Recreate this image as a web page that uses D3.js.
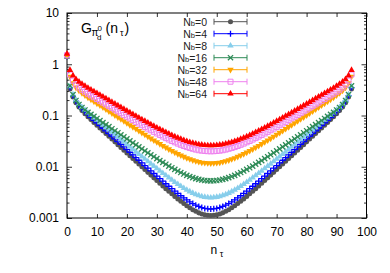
<!DOCTYPE html>
<html><head><meta charset="utf-8">
<script src="https://cdn.jsdelivr.net/npm/d3@7"></script>
<style>body{margin:0;background:#fff}svg{display:block;font-family:"Liberation Sans",Arial,Helvetica,sans-serif}</style>
</head><body><svg id="c" width="390" height="273"></svg>
<script>
// ---- data ----
const nTau = d3.range(0, 96);
const nbLabels = ["0", "4", "8", "16", "32", "48", "64"];
const xTickValues = [0, 10, 20, 30, 40, 50, 60, 70, 80, 90, 100];
const yTickValues = [0.001, 0.01, 0.1, 1, 10];
const yTickLabels = ["0.001", "0.01", "0.1", "1", "10"];

const gNb0 = [1.40, 0.329,0.229,0.177,0.146,0.1245,0.1082,0.0942,0.0831,0.0734,0.0647,
0.0571,0.0504,0.0445,0.0393,0.0347,0.0306,0.0270,0.0238,0.0210,0.0186,
0.0164,0.0145,0.0128,0.0113,0.00996,0.0088,0.00777,0.00687,0.00607,0.00537,
0.00476,0.00421,0.00374,0.00332,0.00296,0.00264,0.00236,0.00212,0.00191,0.00173,
0.00158,0.00145,0.00135,0.00126,0.0012,0.00116,0.00113,0.00112,
0.00113,0.00116,0.0012,0.00126,0.00135,0.00145,0.00158,
0.00173,0.00191,0.00212,0.00236,0.00264,0.00296,0.00332,0.00374,0.00421,0.00476,
0.00537,0.00607,0.00687,0.00777,0.0088,0.00996,0.0113,0.0128,0.0145,0.0164,
0.0186,0.0210,0.0238,0.0270,0.0306,0.0347,0.0393,0.0445,0.0504,0.0571,
0.0647,0.0734,0.0831,0.0942,0.1082,0.1245,0.146,0.177,0.229,0.329];

const gNb4 = [1.42, 0.351,0.244,0.190,0.157,0.1345,0.1174,0.1028,0.0911,0.0808,0.0717,
0.0636,0.0564,0.0500,0.0444,0.0394,0.0349,0.0310,0.0275,0.0244,0.0216,
0.0192,0.0170,0.0151,0.0134,0.0119,0.01056,0.00938,0.00834,0.00739,0.00658,
0.00586,0.00523,0.00466,0.00416,0.00373,0.00334,0.00301,0.00272,0.00246,0.00225,
0.00206,0.00191,0.00178,0.00168,0.0016,0.00154,0.00151,0.0015,
0.00151,0.00154,0.0016,0.00168,0.00178,0.00191,0.00206,
0.00225,0.00246,0.00272,0.00301,0.00334,0.00373,0.00416,0.00466,0.00523,0.00586,
0.00658,0.00739,0.00834,0.00938,0.01056,0.0119,0.0134,0.0151,0.0170,0.0192,
0.0216,0.0244,0.0275,0.0310,0.0349,0.0394,0.0444,0.0500,0.0564,0.0636,
0.0717,0.0808,0.0911,0.1028,0.1174,0.1345,0.157,0.190,0.244,0.351];

const gNb8 = [1.43, 0.370,0.2585,0.2015,0.1685,0.1458,0.1286,0.1137,0.1018,0.0912,0.0817,
0.0732,0.0656,0.0588,0.0527,0.0472,0.0423,0.0379,0.0339,0.0304,0.0273,
0.0244,0.0219,0.0196,0.0176,0.0158,0.0142,0.0127,0.0114,0.0103,0.00924,
0.00831,0.00749,0.00675,0.0061,0.00552,0.00501,0.00457,0.00417,0.00383,0.00353,
0.00328,0.00307,0.00289,0.00275,0.00264,0.00256,0.00252,0.0025,
0.00252,0.00256,0.00264,0.00275,0.00289,0.00307,0.00328,
0.00353,0.00383,0.00417,0.00457,0.00501,0.00552,0.0061,0.00675,0.00749,0.00831,
0.00924,0.0103,0.0114,0.0127,0.0142,0.0158,0.0176,0.0196,0.0219,0.0244,
0.0273,0.0304,0.0339,0.0379,0.0423,0.0472,0.0527,0.0588,0.0656,0.0732,
0.0817,0.0912,0.1018,0.1137,0.1286,0.1458,0.1685,0.2015,0.2585,0.370];

const gNb16 = [1.45, 0.380,0.2565,0.1965,0.1642,0.1435,0.1284,0.1152,0.1051,0.0959,0.0875,
0.0798,0.0728,0.0664,0.0606,0.0553,0.0505,0.0461,0.0420,0.0384,0.0350,
0.0320,0.0292,0.0267,0.0244,0.0223,0.0204,0.0187,0.0171,0.0157,0.0144,
0.0132,0.0122,0.0112,0.0103,0.00956,0.00887,0.00825,0.00771,0.00722,0.0068,
0.00644,0.00613,0.00587,0.00566,0.0055,0.00539,0.00532,0.0053,
0.00532,0.00539,0.0055,0.00566,0.00587,0.00613,0.00644,
0.0068,0.00722,0.00771,0.00825,0.00887,0.00956,0.0103,0.0112,0.0122,0.0132,
0.0144,0.0157,0.0171,0.0187,0.0204,0.0223,0.0244,0.0267,0.0292,0.0320,
0.0350,0.0384,0.0420,0.0461,0.0505,0.0553,0.0606,0.0664,0.0728,0.0798,
0.0875,0.0959,0.1051,0.1152,0.1284,0.1435,0.1642,0.1965,0.2565,0.380];

const gNb32 = [1.47, 0.574,0.429,0.353,0.307,0.274,0.248,0.225,0.206,0.188,0.172,
0.158,0.144,0.132,0.121,0.111,0.101,0.0927,0.0849,0.0777,0.0712,
0.0652,0.0598,0.0548,0.0502,0.0461,0.0423,0.0388,0.0357,0.0328,0.0302,
0.0279,0.0257,0.0238,0.022,0.0204,0.019,0.0178,0.0167,0.0157,0.0148,
0.0141,0.0134,0.0129,0.0125,0.0121,0.0119,0.0118,0.0117,
0.0118,0.0119,0.0121,0.0125,0.0129,0.0134,0.0141,
0.0148,0.0157,0.0167,0.0178,0.019,0.0204,0.022,0.0238,0.0257,0.0279,
0.0302,0.0328,0.0357,0.0388,0.0423,0.0461,0.0502,0.0548,0.0598,0.0652,
0.0712,0.0777,0.0849,0.0927,0.101,0.111,0.121,0.132,0.144,0.158,
0.172,0.188,0.206,0.225,0.248,0.274,0.307,0.353,0.429,0.574];

const gNb48 = [1.50, 0.630,0.479,0.400,0.352,0.318,0.2905,0.266,0.246,0.227,0.2095,
0.1935,0.179,0.165,0.1525,0.141,0.130,0.120,0.111,0.1027,0.095,
0.0879,0.0813,0.0752,0.0697,0.0646,0.0598,0.0555,0.0516,0.0479,0.0446,
0.0415,0.0388,0.0362,0.0339,0.0318,0.03,0.0283,0.0268,0.0254,0.0242,
0.0232,0.0224,0.0216,0.021,0.0206,0.0203,0.0201,0.02,
0.0201,0.0203,0.0206,0.021,0.0216,0.0224,0.0232,
0.0242,0.0254,0.0268,0.0283,0.03,0.0318,0.0339,0.0362,0.0388,0.0415,
0.0446,0.0479,0.0516,0.0555,0.0598,0.0646,0.0697,0.0752,0.0813,0.0879,
0.095,0.1027,0.111,0.120,0.130,0.141,0.1525,0.165,0.179,0.1935,
0.2095,0.227,0.246,0.266,0.2905,0.318,0.352,0.400,0.479,0.630];

const gNb64 = [1.60, 0.769,0.602,0.511,0.454,0.412,0.377,0.346,0.3195,0.295,0.2724,
0.2516,0.2323,0.2146,0.1982,0.1831,0.1692,0.1563,0.1445,0.1336,0.1235,
0.1142,0.1057,0.0978,0.0906,0.0839,0.0778,0.0722,0.067,0.0623,0.058,
0.054,0.0504,0.0471,0.0441,0.0414,0.0389,0.0367,0.0348,0.033,0.0315,
0.0302,0.0291,0.0281,0.0273,0.0268,0.0263,0.0261,0.026,
0.0261,0.0263,0.0268,0.0273,0.0281,0.0291,0.0302,
0.0315,0.033,0.0348,0.0367,0.0389,0.0414,0.0441,0.0471,0.0504,0.054,
0.058,0.0623,0.067,0.0722,0.0778,0.0839,0.0906,0.0978,0.1057,0.1142,
0.1235,0.1336,0.1445,0.1563,0.1692,0.1831,0.1982,0.2146,0.2323,0.2516,
0.2724,0.295,0.3195,0.346,0.377,0.412,0.454,0.511,0.602,0.769];

// ---- styling / layout ----
const seriesValues = [gNb0, gNb4, gNb8, gNb16, gNb32, gNb48, gNb64];
const colors = ["#555555", "#0000ff", "#87ceeb", "#2e8b57", "#ffa500", "#ee82ee", "#ff0000"];
const shapes = ["circle", "plus", "tri", "cross", "triDown", "square", "tri"];

const svg = d3.select("#c");
const L = 67, R = 366.5, T = 13, B = 218;
const x = d3.scaleLinear().domain([0, 100]).range([L, R]);
const y = d3.scaleLog().domain([0.001, 10]).range([B, T]);

function shapePath(type) {
  switch (type) {
    case "circle": return d3.symbol(d3.symbolCircle, 20)();
    case "plus": return "M-3,0H3M0,-3V3";
    case "cross": return "M-2.6,-2.6L2.6,2.6M-2.6,2.6L2.6,-2.6";
    case "tri": return d3.symbol(d3.symbolTriangle, 18)();
    case "triDown": return d3.symbol(d3.symbolTriangle, 18)();
    case "square": return "M-2.5,-2.5H2.5V2.5H-2.5Z";
  }
}
function styleMarker(sel, type, color) {
  const stroked = (type === "plus" || type === "cross" || type === "square");
  sel.attr("d", shapePath(type))
    .attr("fill", stroked ? "none" : color)
    .attr("stroke", stroked ? color : "none")
    .attr("stroke-width", type === "square" ? 1 : 1.3);
}

// axes
const fs = 12;
const xAxis = d3.axisBottom(x).tickValues(xTickValues).tickSize(-4).tickPadding(9).tickFormat(d3.format("d"));
svg.append("g").attr("transform", `translate(0,${B})`).call(xAxis);
const xTop = d3.axisTop(x).tickValues(xTickValues).tickSize(-4).tickFormat("");
svg.append("g").attr("transform", `translate(0,${T})`).call(xTop);
const yAxis = d3.axisLeft(y).tickValues(yTickValues).tickSize(-5).tickPadding(8)
  .tickFormat((d, i) => yTickLabels[i]);
svg.append("g").attr("transform", `translate(${L},0)`).call(yAxis);
const yRight = d3.axisRight(y).tickValues(yTickValues).tickSize(-5).tickFormat("");
svg.append("g").attr("transform", `translate(${R},0)`).call(yRight);
// minor log ticks
const minor = [];
[0.001, 0.01, 0.1, 1].forEach(dec => { for (let k = 2; k <= 9; k++) minor.push(dec * k); });
svg.append("g").attr("transform", `translate(${L},0)`).call(d3.axisLeft(y).tickValues(minor).tickSize(-2.5).tickFormat(""));
svg.append("g").attr("transform", `translate(${R},0)`).call(d3.axisRight(y).tickValues(minor).tickSize(-2.5).tickFormat(""));

svg.selectAll(".domain").remove();
svg.selectAll(".tick line").attr("stroke", "#333");
svg.selectAll(".tick text").attr("font-size", fs).attr("fill", "#000")
  .attr("font-family", '"Liberation Sans",Arial,sans-serif');

// frame
svg.append("rect").attr("x", L).attr("y", T).attr("width", R - L).attr("height", B - T)
  .attr("fill", "none").attr("stroke", "#000").attr("stroke-width", 1);

// data
seriesValues.forEach((vals, si) => {
  const g = svg.append("g");
  const pts = g.selectAll("path").data(nTau.map((n, i) => [n, vals[i]])).join("path")
    .attr("transform", d => `translate(${x(d[0])},${y(d[1])})` + (shapes[si] === "triDown" ? " rotate(180)" : ""));
  styleMarker(pts, shapes[si], colors[si]);
});

// legend
const legTop = 21.7, legStep = 12, textX = 207, lx1 = 214, lx2 = 247;
const lfs = 10.5;
nbLabels.forEach((lab, i) => {
  const yy = legTop + i * legStep;
  const tail = svg.append("text").attr("x", textX).attr("y", yy + 4).attr("text-anchor", "end")
    .attr("font-size", lfs).attr("fill", "#222").text("=" + lab);
  const tw = tail.node().getComputedTextLength();
  const sub = svg.append("text").attr("x", textX - tw).attr("y", yy + 4.6).attr("text-anchor", "end")
    .attr("font-size", 7.5).attr("fill", "#222").text("b");
  const sw = sub.node().getComputedTextLength();
  svg.append("text").attr("x", textX - tw - sw).attr("y", yy + 4).attr("text-anchor", "end")
    .attr("font-size", lfs).attr("fill", "#222").text("N");
  const c = colors[i];
  svg.append("line").attr("x1", lx1).attr("x2", lx2).attr("y1", yy).attr("y2", yy).attr("stroke", c);
  svg.append("line").attr("x1", lx1).attr("x2", lx1).attr("y1", yy - 3).attr("y2", yy + 3).attr("stroke", c);
  svg.append("line").attr("x1", lx2).attr("x2", lx2).attr("y1", yy - 3).attr("y2", yy + 3).attr("stroke", c);
  const m = svg.append("path").attr("transform", `translate(${(lx1 + lx2) / 2},${yy})` + (shapes[i] === "triDown" ? " rotate(180)" : ""));
  styleMarker(m, shapes[i], c);
});

// title G_{pi_d^0}(n_tau)
const title = svg.append("g").attr("fill", "#000");
title.append("text").attr("x", 81).attr("y", 32.5).attr("font-size", 14).text("G");
title.append("text").attr("x", 91.5).attr("y", 36).attr("font-size", 10).text("π");
title.append("text").attr("x", 97.5).attr("y", 31).attr("font-size", 8).text("0");
title.append("text").attr("x", 97).attr("y", 40).attr("font-size", 8).text("d");
title.append("text").attr("x", 105.5).attr("y", 32.5).attr("font-size", 14).text("(n");
title.append("text").attr("x", 120).attr("y", 35.5).attr("font-size", 9).text("τ");
title.append("text").attr("x", 124.5).attr("y", 32.5).attr("font-size", 14).text(")");

// x label
svg.append("text").attr("x", x(50) - 3).attr("y", 254).attr("text-anchor", "middle").attr("font-size", fs).text("n");
svg.append("text").attr("x", x(50) + 3).attr("y", 257).attr("font-size", 9).text("τ");
</script></body></html>
